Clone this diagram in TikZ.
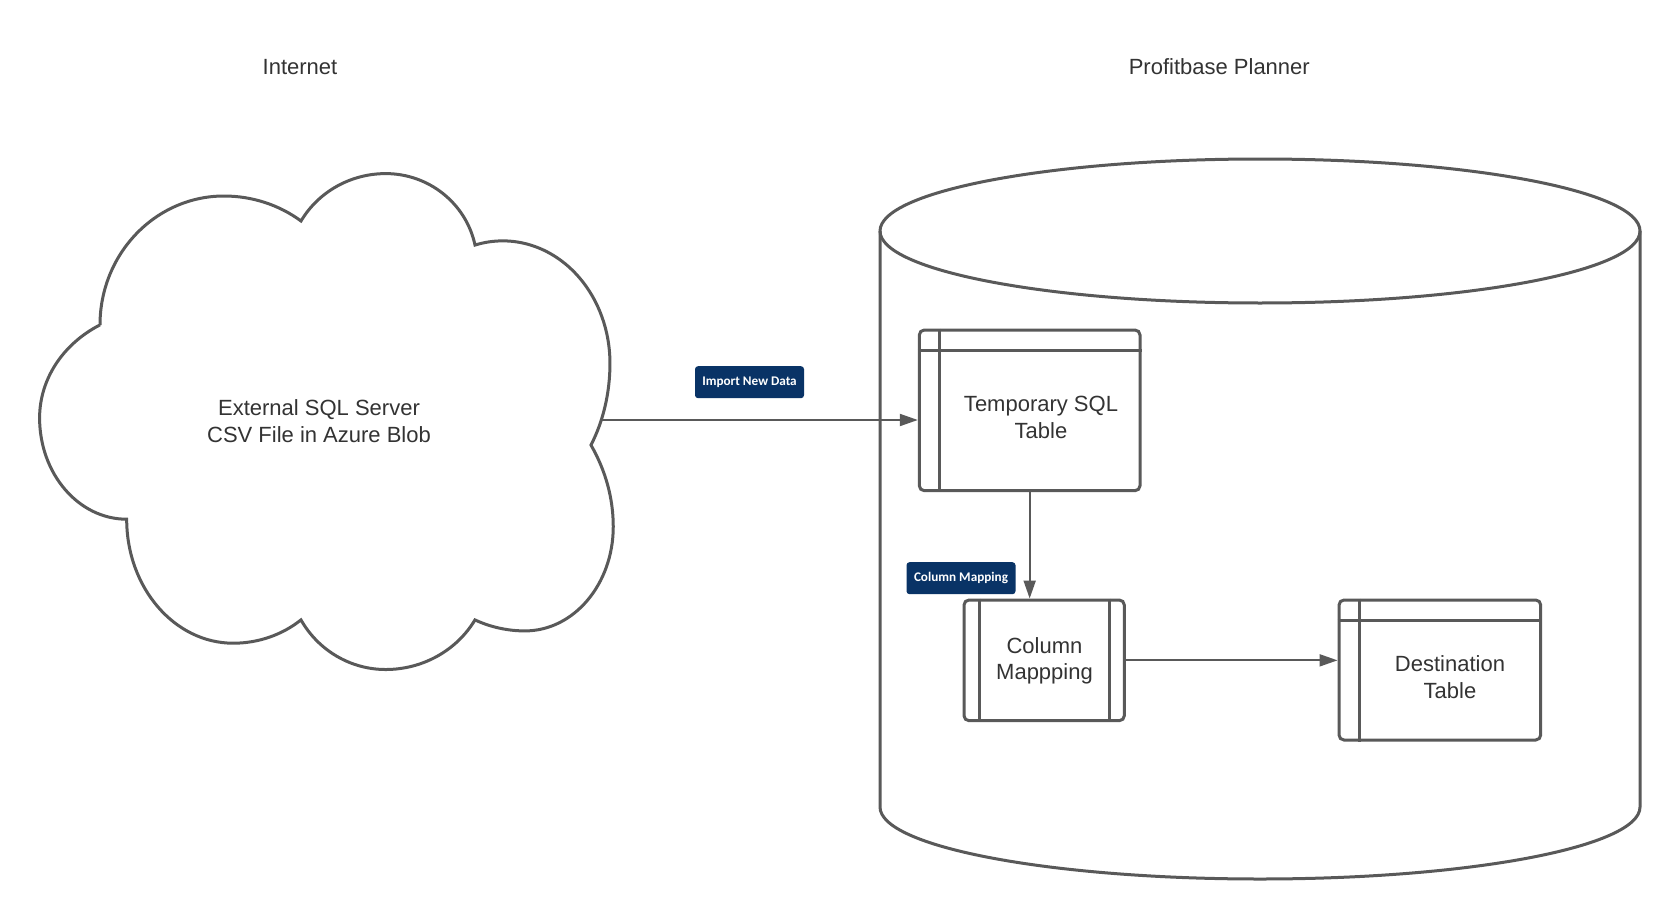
\documentclass[tikz,border=0pt]{standalone}
\usepackage{fontspec}
\setmainfont{Liberation Sans}
\newfontfamily\tagfont{Carlito}
\usetikzlibrary{arrows.meta,positioning}

\definecolor{linegray}{RGB}{89,89,89}
\definecolor{textgray}{RGB}{51,51,51}
\definecolor{tagblue}{RGB}{9,51,102}

\tikzset{every picture/.style={line width=1.5pt}}
\tikzset{
  outline/.style={draw=linegray, line width=1.5pt},
  sqltable/.style={outline, rounded corners=2.5pt, inner sep=0pt},
  flow/.style={draw=linegray, line width=1pt, -{Triangle[length=9pt,width=6pt]}},
  tag/.style={fill=tagblue, text=white, rounded corners=1.5pt, inner sep=0pt,
    minimum width=54.5pt, minimum height=16pt,
    font=\tagfont\bfseries\fontsize{6.6}{7}\selectfont},
  plain/.style={text=textgray, align=center, inner sep=0pt,
    font=\fontsize{11}{13.3}\selectfont}
}

% header line and left bar of a table box
\newcommand{\tablelines}[1]{%
  \draw[outline] (#1.north west) ++(22,0) coordinate (#1-v) -- (#1-v |- #1.south);
  \draw[outline] (#1.north west) ++(0,21.5) coordinate (#1-h) -- (#1-h -| #1.east);}

\begin{document}
\begin{tikzpicture}[x=0.5pt,y=0.5pt,yscale=-1]
\fill[white] (0,0) rectangle (1680,920);
\useasboundingbox (0,0) rectangle (1680,920);

% Text Node
\node[plain] (internet) at (300,67.4) {Internet};
% Text Node
\node[plain] (planner) at (1219.3,66.4) {Profitbase Planner};

%Cloud
\draw[outline] (100,325)
  arc[start angle=180,end angle=270,x radius=124,y radius=129]
  arc[start angle=270,end angle=308,x radius=125.1,y radius=117.9]
  arc[start angle=210,end angle=270,x radius=97.8,y radius=94.8]
  arc[start angle=270,end angle=348,x radius=91.3,y radius=90.2]
  arc[start angle=255,end angle=360,x radius=107.2,y radius=122.5]
  arc[start angle=0,end angle=35,x radius=105.1,y radius=142.4]
  arc[start angle=335,end angle=360,x radius=238,y radius=193]
  arc[start angle=0,end angle=90,x radius=88.3,y radius=104.3]
  arc[start angle=90,end angle=115,x radius=118.3,y radius=117.4]
  arc[start angle=30,end angle=90,x radius=103.1,y radius=99.2]
  arc[start angle=90,end angle=150,x radius=97.8,y radius=99.2]
  arc[start angle=50,end angle=90,x radius=105.3,y radius=99.6]
  arc[start angle=90,end angle=180,x radius=106.6,y radius=124]
  arc[start angle=90,end angle=180,x radius=87.1,y radius=101.3]
  arc[start angle=180,end angle=240,x radius=120.8,y radius=107.4]
  -- cycle;
\coordinate (cloudout) at (601,420);
% Text Node
\node[plain] (source) at (319,421) {External SQL Server\\CSV File in Azure Blob};

%Database
\draw[outline] (880,231) -- (880,807)
  arc[start angle=180,end angle=0,x radius=380,y radius=72] -- (1640,231);
\draw[outline] (1260,231) ellipse[x radius=380,y radius=72];

%Tables
\node[sqltable, minimum width=110.35pt, minimum height=80.35pt] (temp) at (1029.65,410.35) {};
\tablelines{temp}
\node[plain] (temptxt) at (1041,417.5) {Temporary SQL\\Table};

\node[sqltable, minimum width=80.15pt, minimum height=60.35pt] (cmap) at (1044.15,660.35) {};
\draw[outline] (cmap.north west) ++(16.7,0) coordinate (cmap-l) -- (cmap-l |- cmap.south);
\draw[outline] (cmap.north east) ++(-16,0) coordinate (cmap-r) -- (cmap-r |- cmap.south);
\node[plain] (cmaptxt) at (1044.5,660.8) {Column\\Mappping};

\node[sqltable, minimum width=100.85pt, minimum height=70pt] (dest) at (1439.85,670) {};
\tablelines{dest}
\node[plain] (desttxt) at (1450,677) {Destination\\Table};

%Connectors
\draw[flow] (cloudout) -- (cloudout -| temp.west);
\draw[flow] (temp.south) -- (temp.south |- cmap.north);
\draw[flow] (cmap.east) -- (cmap.east -| dest.west);

% Text Node
\node[tag] (importtag) at (749.5,382.2) {Import New Data};
% Text Node
\node[tag] (maptag) at (961,578.2) {Column Mapping};
\end{tikzpicture}
\end{document}
